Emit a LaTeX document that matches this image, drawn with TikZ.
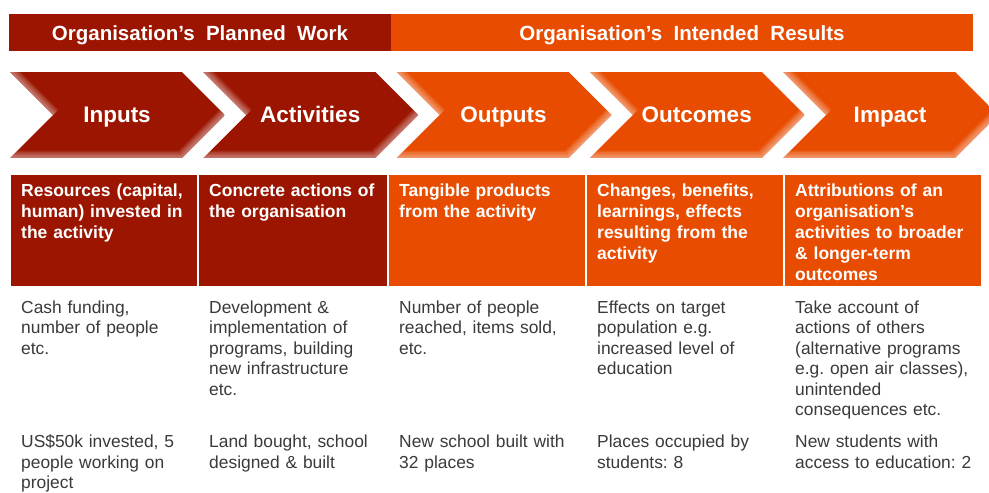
\documentclass[tikz,border=0pt]{standalone}
\usepackage{fontspec}
\setmainfont{Liberation Sans}
\newfontfamily\bannerfont[WordSpace=2]{Liberation Sans}
\definecolor{planred}{RGB}{155,21,0}
\definecolor{resorange}{RGB}{232,76,0}
\definecolor{bodygray}{RGB}{58,58,58}
\frenchspacing

\begin{document}
\begin{tikzpicture}[x=1pt, y=-1pt,
  titlebar/.style={fill=#1, text=white, inner sep=0pt, minimum height=37pt,
    text height=15pt, text depth=0pt,
    font=\bannerfont\fontsize{20.5}{24}\selectfont\bfseries},
  chevlabel/.style={anchor=base, text=white, font=\fontsize{22.5}{26}\selectfont\bfseries},
  headtext/.style={anchor=base west, inner sep=0pt, text width=180pt, align=left,
    text=white, font=\fontsize{17.5}{21}\selectfont\bfseries},
  bodytext/.style={anchor=base west, inner sep=0pt, text width=180pt, align=left,
    text=bodygray, font=\fontsize{17.4}{20.5}\selectfont}]
\clip (0,0) rectangle (989,493);
\fill[white] (0,0) rectangle (989,493);

% banners over the chain
\node[titlebar=planred, minimum width=382pt] (work) at (200,32.5) {Organisation’s Planned Work};
\node[titlebar=resorange, minimum width=582pt] (results) at (682,32.5) {Organisation’s Intended Results};

% chevrons, with a soft light edge
\foreach \name/\lbl/\col [count=\i from 0] in {inputs/Inputs/planred,
    activities/Activities/planred, outputs/Outputs/resorange,
    outcomes/Outcomes/resorange, impact/Impact/resorange} {
  \pgfmathsetmacro{\x}{10+193.25*\i}
  \begin{scope}
    \clip (\x,72) -- ++(172,0) -- ++(43,43) -- ++(-43,43) -- ++(-172,0)
      -- ++(43,-43) -- cycle;
    \fill[\col] (\x,72) rectangle ++(215,86);
    \foreach \w in {3,6,...,15}
      \draw[white, opacity=.1, line width=\w pt] (\x,72) -- ++(43,43)
        (\x,158) -- ++(172,0) -- ++(43,-43);
  \end{scope}
  \node[chevlabel] (\name) at (\x+107,122.5) {\lbl};
}

% definitions, general examples, school example
\foreach \l/\r/\col/\name/\txt/\gen/\school in {
  10/198/planred/inp/{Resources (capital,\\human) invested in\\the activity}/
    {Cash funding,\\number of people\\etc.}/{US\$50k invested, 5\\people working on\\project},
  198/388/planred/act/{Concrete actions of\\the organisation}/
    {Development \&\\implementation of\\programs, building\\new infrastructure\\etc.}/
    {Land bought, school\\designed \& built},
  388/586/resorange/out/{Tangible products\\from the activity}/
    {Number of people\\reached, items sold,\\etc.}/{New school built with\\32 places},
  586/784/resorange/oc/{Changes, benefits,\\learnings, effects\\resulting from the\\activity}/
    {Effects on target\\population e.g.\\increased level of\\education}/
    {Places occupied by\\students: 8},
  784/982/resorange/imp/{Attributions of an\\organisation’s\\activities to broader\\\& longer-term\\outcomes}/
    {Take account of\\actions of others\\(alternative programs\\e.g. open air classes),\\unintended\\consequences etc.}/
    {New students with\\access to education: 2}} {
  \filldraw[fill=\col, draw=white, line width=1.2pt] (\l,174) rectangle (\r,287);
  \node[headtext] (\name def) at (\l+11,196) {\txt};
  \node[bodytext] (\name gen) at (\l+11,313) {\gen};
  \node[bodytext] (\name eg) at (\l+11,447.5) {\school};
}
\end{tikzpicture}
\end{document}
